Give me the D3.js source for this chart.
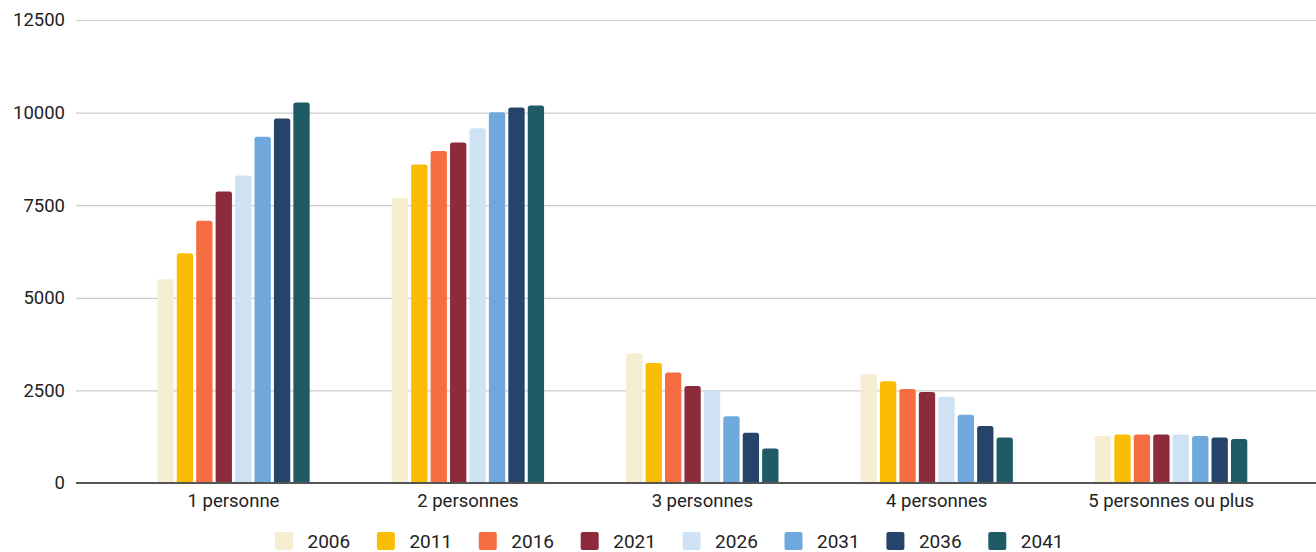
<!DOCTYPE html>
<html>
<head>
<meta charset="utf-8">
<script src="https://cdn.jsdelivr.net/npm/d3@7"></script>
<style>
  html, body { margin: 0; padding: 0; background: #ffffff; }
  svg { display: block; }
  text { font-family: Roboto, "Noto Sans", sans-serif; fill: #222222; }
</style>
</head>
<body>
<svg id="chart" width="1316" height="552"></svg>
<script>
const categories = ["1 personne", "2 personnes", "3 personnes", "4 personnes", "5 personnes ou plus"];
const years = ["2006", "2011", "2016", "2021", "2026", "2031", "2036", "2041"];
const colors = ["#F7EDD1", "#FBBC04", "#F76D42", "#8D2A3C", "#CFE2F3", "#6FA8DC", "#26446A", "#1F5B64"];
const v2006 = [5500, 7700, 3500, 2940, 1270];
const v2011 = [6200, 8600, 3240, 2750, 1310];
const v2016 = [7080, 8960, 2980, 2540, 1310];
const v2021 = [7870, 9190, 2620, 2460, 1310];
const v2026 = [8300, 9580, 2490, 2330, 1310];
const v2031 = [9350, 10010, 1800, 1840, 1270];
const v2036 = [9840, 10140, 1360, 1540, 1230];
const v2041 = [10270, 10190, 930, 1230, 1190];
const yTicks = [0, 2500, 5000, 7500, 10000, 12500];

const series = [v2006, v2011, v2016, v2021, v2026, v2031, v2036, v2041];

const svg = d3.select("#chart");
const plotLeft = 76, plotRight = 1316, yTop = 20, yBottom = 483;

const y = d3.scaleLinear().domain([0, 12500]).range([yBottom, yTop]);
const x0 = d3.scaleBand().domain(categories).range([116.3, 1288.3]).paddingInner(0.35).paddingOuter(0.175);
const x1 = d3.scaleBand().domain(years).range([0, x0.bandwidth()]).paddingInner(0.16).paddingOuter(0);
const color = d3.scaleOrdinal().domain(years).range(colors);

// gridlines
const yAxis = d3.axisLeft(y).tickValues(yTicks).tickSize(-(plotRight - plotLeft)).tickPadding(11).tickFormat(d3.format("d"));
const gy = svg.append("g").attr("transform", `translate(${plotLeft},0)`).call(yAxis);
gy.select(".domain").remove();
gy.selectAll(".tick line").attr("stroke", "#cccccc").attr("stroke-width", 1.2);
gy.selectAll(".tick text").attr("font-size", 18.5).attr("fill", "#222").attr("font-family", "Roboto, sans-serif");
gy.selectAll(".tick").filter(d => d === 0).select("line").attr("stroke", "none");

// bars
const data = [];
categories.forEach((c, ci) => {
  years.forEach((yr, yi) => data.push({ cat: c, year: yr, value: series[yi][ci] }));
});

function barPath(d) {
  const xl = x0(d.cat) + x1(d.year);
  const w = x1.bandwidth();
  const yt = y(d.value);
  const yb = y(0);
  const r = Math.min(2.5, (yb - yt) / 2);
  return `M${xl},${yb} L${xl},${yt + r} Q${xl},${yt} ${xl + r},${yt} L${xl + w - r},${yt} Q${xl + w},${yt} ${xl + w},${yt + r} L${xl + w},${yb} Z`;
}

svg.append("g").selectAll("path").data(data).join("path")
  .attr("d", barPath)
  .attr("fill", d => color(d.year));

// baseline
svg.append("line").attr("x1", plotLeft).attr("x2", plotRight)
  .attr("y1", y(0)).attr("y2", y(0))
  .attr("stroke", "#555555").attr("stroke-width", 2);

// x axis labels
const xAxis = d3.axisBottom(x0).tickSize(0).tickPadding(11);
const gx = svg.append("g").attr("transform", `translate(0,${yBottom})`).call(xAxis);
gx.select(".domain").remove();
gx.selectAll(".tick text").attr("font-size", 18.5).attr("fill", "#222").attr("font-family", "Roboto, sans-serif");

// legend
const legend = svg.append("g").attr("transform", "translate(275,532)");
const item = legend.selectAll("g").data(years).join("g")
  .attr("transform", (d, i) => `translate(${i * 101.9},0)`);
item.append("rect").attr("width", 18).attr("height", 18).attr("rx", 2)
  .attr("fill", d => color(d));
item.append("text").attr("x", 32.5).attr("y", 16).attr("font-size", 19)
  .attr("fill", "#222").text(d => d);
</script>
</body>
</html>
